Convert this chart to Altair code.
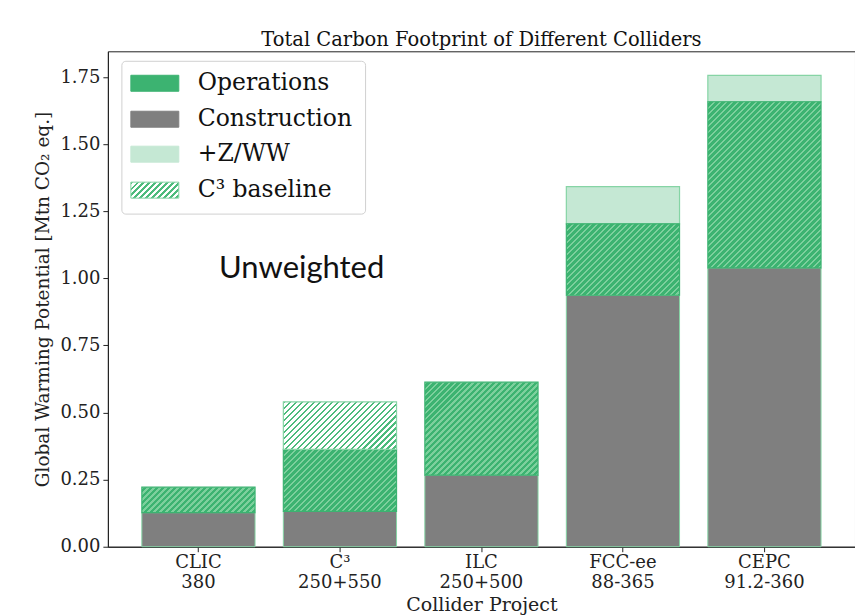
import altair as alt
import numpy as np
import pandas as pd

# ---------------- data ----------------
projects = ["CLIC", "C³", "ILC", "FCC-ee", "CEPC"]
energies = ["380", "250+550", "250+500", "88-365", "91.2-360"]
construction = [0.127, 0.132, 0.267, 0.937, 1.039]
operations = [0.095, 0.231, 0.346, 0.266, 0.619]
zww = [0.0, 0.0, 0.0, 0.139, 0.098]
c3_baseline = [0.0, 0.177, 0.0, 0.0, 0.0]

legend_labels = ["Operations", "Construction", "+Z/WW", "C³ baseline"]
y_ticks = [0.0, 0.25, 0.5, 0.75, 1.0, 1.25, 1.5, 1.75]
title_text = "Total Carbon Footprint of Different Colliders"
y_title = "Global Warming Potential [Mtn CO₂ eq.]"
x_title = "Collider Project"
note_text = "Unweighted"

# ---------------- style ----------------
WIDTH, HEIGHT = 748, 496
YMAX = 1.846
SERIF = "DejaVu Serif"
GREEN = "#3cb371"
HATCH_LIGHT = "#7dd09d"
HATCH_ON_WHITE = "#4dbb7c"
ZWW_FILL = "#c5e8d4"
GRAY = "#7f7f7f"
EDGE = "#86d4a5"
PAD_INNER, PAD_OUTER = 0.2, 0.24

keys = [f"{p}|{e}" for p, e in zip(projects, energies)]

rows = []
for k, c, o, z, b in zip(keys, construction, operations, zww, c3_baseline):
    rows.append(dict(key=k, seg="construction", y0=0.0, y1=c))
    rows.append(dict(key=k, seg="operations", y0=c, y1=c + o))
    if b > 0:
        rows.append(dict(key=k, seg="baseline", y0=c + o, y1=c + o + b))
    if z > 0:
        rows.append(dict(key=k, seg="zww", y0=c + o, y1=c + o + z))
df = pd.DataFrame(rows)

step = WIDTH / (len(keys) - PAD_INNER + 2 * PAD_OUTER)
bar_w = step * (1 - PAD_INNER)
px_per_unit = HEIGHT / YMAX


def hatch(W, H, bg, fg, period=6.0, line=2.2):
    """Diagonal '/' stripes built from a hard-stop linear gradient."""
    S = W + H
    c = S / (W * W + H * H)
    stops = []
    n = int(np.ceil(S / period)) + 1
    for i in range(n):
        s0 = i * period / S
        s1 = (i * period + line) / S
        s2 = (i + 1) * period / S
        if s0 >= 1:
            break
        stops += [
            {"offset": s0, "color": fg},
            {"offset": min(s1, 1.0), "color": fg},
            {"offset": min(s1, 1.0), "color": bg},
            {"offset": min(s2, 1.0), "color": bg},
        ]
    return {"gradient": "linear", "x1": 0, "y1": 0, "x2": W * c, "y2": H * c, "stops": stops}


x_enc = alt.X(
    "key:N",
    sort=keys,
    scale=alt.Scale(paddingInner=PAD_INNER, paddingOuter=PAD_OUTER),
    axis=alt.Axis(
        title=x_title,
        labelExpr="split(datum.label, '|')",
        labelAngle=0,
        labelFont=SERIF,
        labelFontSize=18,
        labelLineHeight=20,
        labelColor="#222",
        titleFont=SERIF,
        titleFontSize=19,
        titleFontWeight="normal",
        titleColor="#222",
        titleY=58,
        titleBaseline="middle",
        tickSize=5,
        tickColor="#222",
        domainColor="#222",
        labelPadding=2,
    ),
)
y_enc = alt.Y(
    "y0:Q",
    scale=alt.Scale(domain=[0, YMAX], nice=False, zero=True),
    axis=alt.Axis(
        title=y_title,
        values=y_ticks,
        format=".2f",
        grid=False,
        labelFont=SERIF,
        labelFontSize=18,
        labelColor="#222",
        titleFont=SERIF,
        titleFontSize=18.5,
        titleFontWeight="normal",
        titleColor="#222",
        titlePadding=7,
        tickSize=5,
        tickColor="#222",
        domainColor="#222",
        labelPadding=3,
    ),
)

base = alt.Chart(df).encode(x=x_enc, y=y_enc, y2="y1:Q")

layers = [
    base.transform_filter(alt.datum.seg == "construction").mark_bar(
        fill=GRAY, stroke=EDGE, strokeWidth=1
    ),
    base.transform_filter(alt.datum.seg == "zww").mark_bar(
        fill=ZWW_FILL, stroke=EDGE, strokeWidth=1.2
    ),
]
for r in rows:
    if r["seg"] not in ("operations", "baseline"):
        continue
    H = (r["y1"] - r["y0"]) * px_per_unit
    if r["seg"] == "operations":
        fill = hatch(bar_w, H, GREEN, HATCH_LIGHT)
        stroke = GREEN
    else:
        fill = hatch(bar_w, H, "#ffffff", HATCH_ON_WHITE)
        stroke = EDGE
    layers.append(
        base.transform_filter(
            (alt.datum.key == r["key"]) & (alt.datum.seg == r["seg"])
        ).mark_bar(fill=fill, stroke=stroke, strokeWidth=1.2)
    )

# ---------------- legend (drawn by hand, with hatched swatch) ----------------
one = pd.DataFrame({"a": [0]})
layers.append(
    alt.Chart(one).mark_rect(
        fill="white", stroke="#cccccc", strokeWidth=1, cornerRadius=4, opacity=0.9
    ).encode(x=alt.value(14), x2=alt.value(258), y=alt.value(10), y2=alt.value(163))
)
sw_w, sw_h = 48, 16
legend_fills = [
    GREEN,
    GRAY,
    ZWW_FILL,
    hatch(sw_w, sw_h, "#ffffff", HATCH_ON_WHITE, period=6.0, line=2.2),
]
legend_strokes = [GREEN, GRAY, ZWW_FILL, EDGE]
row_y = [32, 68, 103, 139]
for lab, f, s, yc in zip(legend_labels, legend_fills, legend_strokes, row_y):
    layers.append(
        alt.Chart(one).mark_rect(fill=f, stroke=s, strokeWidth=1).encode(
            x=alt.value(23), x2=alt.value(23 + sw_w),
            y=alt.value(yc - sw_h / 2), y2=alt.value(yc + sw_h / 2),
        )
    )
    layers.append(
        alt.Chart(one).mark_text(
            text=lab, font=SERIF, fontSize=23.5, align="left", baseline="middle", color="#111"
        ).encode(x=alt.value(90), y=alt.value(yc))
    )

# annotation
layers.append(
    alt.Chart(one).mark_text(
        text=note_text, font="Lato", fontSize=31, align="center", baseline="middle", color="#111"
    ).encode(x=alt.value(194), y=alt.value(218))
)

chart = (
    alt.layer(*layers)
    .properties(
        width=WIDTH,
        height=HEIGHT,
        padding={"left": 25, "top": 21, "right": 0, "bottom": 0},
        title=alt.TitleParams(
            title_text, font=SERIF, fontSize=19.5, fontWeight="normal", color="#111",
            anchor="middle", offset=1,
        ),
        background="white",
    )
    .configure_view(stroke="#222", strokeWidth=1)
)

chart.save("out.html", embed_options={"renderer": "svg", "actions": False})
